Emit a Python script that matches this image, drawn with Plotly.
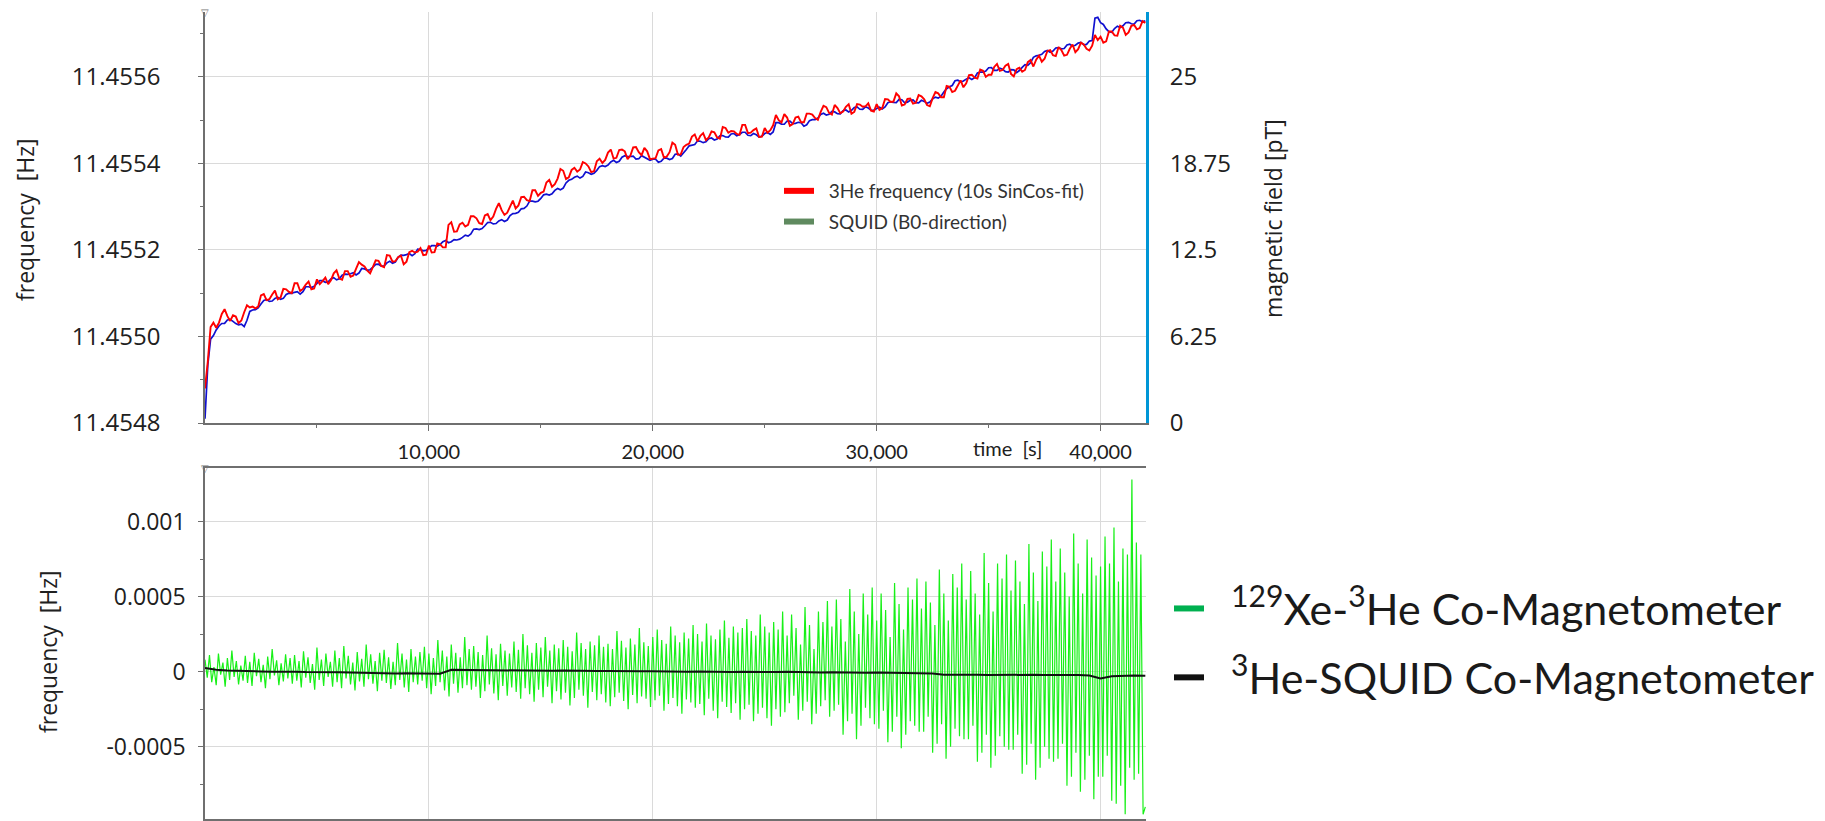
import plotly.graph_objects as go

# ---------------------------------------------------------------------------
# Measurement data
# ---------------------------------------------------------------------------
# 3He precession frequency from 10 s SinCos fits, one value per 125 s,
# stored as offset from the reference frequency in micro-Hz
HE3_STEP_S = 125
HE3_REF_HZ = 11.4548
he3_offset_uhz = [
    80, 142, 222, 232, 220, 232, 252, 263, 247, 236, 249, 246, 231, 237, 256, 272,
    267, 269, 265, 269, 295, 298, 284, 286, 297, 306, 286, 290, 310, 309, 303, 300,
    323, 323, 305, 310, 320, 327, 309, 311, 332, 321, 328, 336, 321, 330, 346, 353,
    334, 331, 351, 351, 338, 341, 357, 372, 366, 362, 352, 346, 361, 376, 375, 363,
    360, 388, 387, 373, 374, 383, 387, 367, 373, 395, 398, 394, 396, 404, 388, 389,
    410, 394, 395, 415, 413, 406, 406, 458, 464, 442, 443, 459, 463, 454, 458, 478,
    478, 473, 462, 460, 480, 483, 469, 477, 495, 508, 492, 481, 486, 502, 514, 496,
    503, 522, 523, 515, 513, 538, 538, 525, 532, 535, 556, 562, 546, 552, 565, 587,
    583, 564, 568, 585, 590, 581, 586, 603, 600, 593, 580, 582, 605, 611, 601, 608,
    625, 632, 611, 613, 631, 632, 628, 610, 618, 637, 638, 626, 619, 636, 628, 610,
    611, 612, 630, 633, 613, 616, 626, 648, 643, 620, 621, 638, 643, 646, 662, 667,
    651, 664, 670, 654, 660, 674, 672, 660, 657, 684, 682, 671, 675, 674, 668, 666,
    689, 689, 670, 671, 677, 681, 661, 662, 682, 671, 677, 688, 712, 700, 695, 714,
    706, 687, 691, 706, 708, 695, 695, 715, 715, 713, 705, 701, 719, 733, 730, 717,
    713, 735, 728, 716, 720, 731, 737, 715, 719, 737, 736, 731, 732, 739, 722, 720,
    737, 724, 728, 749, 748, 742, 743, 762, 755, 734, 736, 749, 750, 738, 740, 758,
    755, 748, 735, 732, 751, 765, 762, 753, 753, 779, 777, 765, 768, 782, 792, 776,
    785, 804, 805, 798, 796, 817, 814, 800, 805, 805, 823, 830, 814, 816, 826, 830,
    807, 801, 818, 821, 812, 816, 834, 839, 824, 840, 849, 835, 842, 860, 862, 850,
    848, 869, 862, 849, 851, 865, 875, 857, 864, 879, 875, 865, 861, 872, 897, 885,
    893, 879, 882, 905, 905, 896, 895, 918, 914, 897, 903, 918, 920, 910, 913, 929,
    925,
]

# SQUID reading along B0 [pT], same 125 s time base
SQUID_STEP_S = 125
squid_b0_pt = [
    0.31, 4.20, 6.06, 6.31, 6.72, 7.01, 7.19, 7.20, 7.44, 7.48, 7.34, 7.18, 7.09, 7.14, 6.97, 7.42,
    8.06, 8.16, 8.19, 8.32, 8.59, 8.85, 8.91, 8.78, 8.81, 9.00, 9.09, 8.93, 9.00, 9.28, 9.38, 9.37,
    9.44, 9.49, 9.31, 9.48, 9.84, 9.84, 9.78, 9.87, 10.09, 10.29, 10.28, 10.16, 10.19, 10.40, 10.50, 10.34,
    10.41, 10.67, 10.75, 10.73, 10.78, 10.85, 10.69, 10.83, 11.16, 11.13, 11.03, 11.07, 11.25, 11.46, 11.47, 11.33,
    11.34, 11.57, 11.69, 11.54, 11.63, 11.97, 12.13, 12.11, 12.16, 12.24, 12.09, 12.23, 12.56, 12.53, 12.44, 12.47,
    12.63, 12.82, 12.81, 12.77, 12.88, 13.09, 13.19, 13.02, 13.09, 13.25, 13.22, 13.28, 13.41, 13.57, 13.50, 13.65,
    14.00, 14.02, 13.97, 14.04, 14.25, 14.48, 14.50, 14.38, 14.41, 14.60, 14.69, 14.56, 14.66, 14.99, 15.13, 15.14,
    15.22, 15.47, 15.50, 15.67, 16.03, 16.03, 15.97, 16.02, 16.22, 16.48, 16.53, 16.47, 16.56, 16.80, 16.94, 16.84,
    16.97, 17.34, 17.53, 17.60, 17.75, 17.83, 17.69, 17.81, 18.13, 18.08, 17.97, 18.04, 18.25, 18.52, 18.59, 18.53,
    18.63, 18.85, 18.97, 18.82, 18.91, 19.20, 19.31, 19.24, 19.25, 19.27, 19.06, 19.09, 19.31, 19.20, 19.03, 18.98,
    19.06, 19.05, 18.84, 18.91, 19.13, 19.13, 19.03, 19.10, 19.41, 19.44, 19.28, 19.48, 19.75, 20.02, 20.06, 20.12,
    20.38, 20.35, 20.25, 20.32, 20.53, 20.59, 20.44, 20.52, 20.75, 20.76, 20.66, 20.65, 20.88, 20.91, 20.75, 20.84,
    21.00, 21.00, 20.78, 20.75, 20.91, 20.82, 20.66, 20.72, 20.91, 20.98, 20.84, 21.02, 21.69, 21.69, 21.59, 21.58,
    21.81, 21.81, 21.63, 21.64, 21.72, 21.69, 21.44, 21.54, 21.84, 21.91, 21.91, 22.03, 22.28, 22.37, 22.25, 22.30,
    22.50, 22.47, 22.34, 22.33, 22.56, 22.61, 22.47, 22.59, 22.78, 22.83, 22.66, 22.65, 22.84, 22.75, 22.59, 22.59,
    22.72, 22.81, 22.69, 22.83, 23.13, 23.20, 23.16, 23.15, 23.38, 23.35, 23.13, 23.18, 23.31, 23.33, 23.13, 23.12,
    23.31, 23.23, 23.09, 23.18, 23.41, 23.54, 23.47, 23.61, 23.91, 24.15, 24.28, 24.38, 24.72, 24.77, 24.63, 24.70,
    24.84, 24.94, 24.81, 24.95, 25.28, 25.34, 25.34, 25.43, 25.66, 25.67, 25.47, 25.47, 25.63, 25.56, 25.38, 25.34,
    25.53, 25.51, 25.31, 25.46, 25.69, 25.88, 25.84, 26.03, 26.41, 26.52, 26.56, 26.63, 26.84, 26.91, 26.78, 26.86,
    27.09, 27.11, 27.03, 27.05, 27.31, 27.36, 27.22, 27.29, 27.44, 27.49, 27.31, 27.35, 27.59, 27.62, 29.25, 29.30,
    28.91, 28.79, 28.47, 28.27, 28.22, 28.49, 28.66, 28.56, 28.69, 28.91, 28.94, 28.84, 28.81, 29.06, 29.09, 28.98,
    29.06,
]

# 129Xe-3He co-magnetometer residual, one value per 100 s, in micro-Hz
XE_STEP_S = 100
xe_he_comag_uhz = [
    80, -40, 110, -70, 30, -90, 120, -20, 60, -100, 90, -55, 140, -35, 70, -85, 40, -60, 105, -75,
    65, -95, 125, -30, 85, -70, 45, -110, 100, -50, 150, -25, 75, -90, 55, -65, 115, -45, 90, -80,
    110, -60, 70, -105, 135, -40, 95, -75, 50, -120, 160, -55, 80, -95, 120, -35, 65, -100, 140, -70,
    90, -110, 170, -45, 105, -85, 60, -125, 130, -65, 85, -100, 180, -50, 115, -80, 70, -130, 125, -60,
    145, -75, 95, -115, 65, -90, 190, -55, 120, -105, 80, -135, 150, -70, 100, -85, 130, -60, 165, -110,
    120, -150, 90, -95, 210, -70, 140, -125, 100, -165, 180, -80, 125, -140, 95, -110, 230, -90, 150, -120,
    170, -100, 130, -175, 110, -130, 240, -85, 155, -145, 115, -190, 185, -95, 140, -160, 120, -105, 200, -135,
    145, -180, 250, -110, 175, -150, 125, -200, 190, -120, 160, -170, 230, -100, 140, -210, 180, -130, 155, -185,
    210, -140, 165, -225, 135, -175, 260, -120, 190, -160, 150, -240, 200, -135, 175, -190, 240, -150, 165, -205,
    185, -230, 150, -170, 270, -140, 205, -195, 160, -250, 220, -155, 180, -210, 290, -165, 195, -180, 170, -235,
    230, -190, 280, -160, 210, -260, 185, -215, 300, -175, 240, -230, 195, -280, 260, -185, 220, -205, 310, -240,
    250, -215, 200, -290, 320, -180, 240, -260, 215, -310, 280, -200, 340, -235, 225, -275, 300, -210, 260, -320,
    290, -250, 350, -220, 270, -330, 240, -280, 380, -240, 300, -310, 260, -360, 330, -250, 280, -300, 400, -270,
    240, -210, 380, -160, 290, -320, 180, -260, 430, -200, 310, -350, 150, -280, 400, -230, 330, -190, 470, -300,
    300, -260, 480, -220, 350, -420, 200, -330, 550, -280, 400, -450, 250, -360, 520, -240, 380, -310, 560, -350,
    340, -380, 520, -260, 410, -470, 230, -400, 590, -300, 450, -510, 280, -420, 560, -330, 480, -360, 620, -400,
    420, -400, 600, -300, 460, -540, 310, -480, 680, -350, 520, -580, 340, -500, 650, -380, 560, -430, 720, -450,
    480, -450, 670, -360, 520, -600, 380, -540, 790, -420, 590, -640, 400, -560, 720, -430, 620, -500, 780, -520,
    540, -520, 740, -420, 600, -680, 450, -620, 850, -480, 660, -720, 470, -640, 800, -500, 700, -580, 880, -600,
    600, -580, 820, -480, 660, -760, 500, -700, 920, -540, 720, -800, 520, -720, 880, -560, 760, -850, 640, -700,
    700, -700, 900, -560, 720, -860, 960, -880, 600, -760, 820, -950, 780, -640, 1280, -720, 860, -680, 780, -950,
    -900,
]

# 3He-SQUID co-magnetometer residual [Hz], one value per 500 s
SQUID_COMAG_STEP_S = 500
he_squid_comag_hz = [
    0.000025, 0.000012, 0.000008, 0.000004, 0.000003, 0.000001, 0.000000, 0.000002,
    -0.000001, -0.000003, -0.000002, -0.000005, -0.000004, -0.000006, -0.000008, -0.000007,
    -0.000010, -0.000012, -0.000011, -0.000013, -0.000012, -0.000014, 0.000012, 0.000011,
    0.000010, 0.000012, 0.000009, 0.000008, 0.000010, 0.000007, 0.000008, 0.000006,
    0.000007, 0.000005, 0.000006, 0.000004, 0.000005, 0.000003, 0.000004, 0.000002,
    0.000003, 0.000001, 0.000002, 0.000000, 0.000001, -0.000001, 0.000000, -0.000002,
    -0.000001, -0.000003, -0.000002, -0.000003, -0.000001, -0.000004, -0.000003, -0.000005,
    -0.000004, -0.000006, -0.000005, -0.000007, -0.000006, -0.000008, -0.000007, -0.000009,
    -0.000010, -0.000012, -0.000020, -0.000019, -0.000021, -0.000020, -0.000022, -0.000021,
    -0.000023, -0.000022, -0.000021, -0.000023, -0.000022, -0.000024, -0.000023, -0.000025,
    -0.000045, -0.000030, -0.000026, -0.000025, -0.000027,
]

# Axis ticks and labels
TIME_RANGE = [0, 42030]
TIME_TICKS = [10000, 20000, 30000, 40000]
TIME_MINOR = [5000, 15000, 25000, 35000]
FREQ_RANGE = [11.4548, 11.45575]
FREQ_TICKS = [11.4548, 11.4550, 11.4552, 11.4554, 11.4556]
FREQ_MINOR = [11.4549, 11.4551, 11.4553, 11.4555, 11.4557]
FIELD_RANGE = [0, 29.6875]
FIELD_TICKS = [0, 6.25, 12.5, 18.75, 25]
FIELD_LABELS = ["0", "6.25", "12.5", "18.75", "25"]
RESID_RANGE = [-0.000981, 0.001356]
RESID_TICKS = [-0.0005, 0, 0.0005, 0.001]
RESID_LABELS = ["-0.0005", "0", "0.0005", "0.001"]
RESID_MINOR = [-0.00075, -0.00025, 0.00025, 0.00075]


def time_axis(values, step):
    return [i * step for i in range(len(values))]


he3_freq_hz = [HE3_REF_HZ + v * 1e-6 for v in he3_offset_uhz]
xe_he_comag_hz = [v * 1e-6 for v in xe_he_comag_uhz]

# ---------------------------------------------------------------------------
# Figure
# ---------------------------------------------------------------------------
W, H = 1825, 821


def fx(px):
    return px / W


def fy(px):
    return 1 - px / H


AXIS_GREY = "#6f6f6f"
GRID_GREY = "#dadada"
TEXT = "#202020"
SEGOE = "Open Sans, Noto Sans, sans-serif"
CALIBRI = "Lato, sans-serif"
NBSP = "\u00a0"

fig = go.Figure()

# upper panel: SQUID field on the right axis, 3He frequency on the left axis
fig.add_trace(go.Scatter(
    x=time_axis(squid_b0_pt, SQUID_STEP_S), y=squid_b0_pt,
    mode="lines", line=dict(color="#1010d0", width=1.7),
    xaxis="x", yaxis="y", showlegend=False, hoverinfo="skip"))
fig.add_trace(go.Scatter(
    x=time_axis(he3_freq_hz, HE3_STEP_S), y=he3_freq_hz,
    mode="lines", line=dict(color="#ff0000", width=1.9),
    xaxis="x", yaxis="y2", showlegend=False, hoverinfo="skip"))

# lower panel: co-magnetometer residuals
fig.add_trace(go.Scatter(
    x=time_axis(xe_he_comag_hz, XE_STEP_S), y=xe_he_comag_hz,
    mode="lines", line=dict(color="#18f018", width=1.2),
    xaxis="x2", yaxis="y3", showlegend=False, hoverinfo="skip"))
fig.add_trace(go.Scatter(
    x=time_axis(he_squid_comag_hz, SQUID_COMAG_STEP_S), y=he_squid_comag_hz,
    mode="lines", line=dict(color="#111111", width=2),
    xaxis="x2", yaxis="y3", showlegend=False, hoverinfo="skip"))

# legend entries
legend_entries = [
    (NBSP * 2 + "3He frequency (10s SinCos-fit)", "#ff0000", "legend", "a"),
    (NBSP * 2 + "SQUID (B0-direction)", "#5f8a5f", "legend", "b"),
    (NBSP * 2 + "<sup>129</sup>Xe-<sup>3</sup>He Co-Magnetometer", "#00b050", "legend2", "c"),
    (NBSP * 2 + "<sup>3</sup>He-SQUID Co-Magnetometer", "#111111", "legend2", "d"),
]
for name, color, leg, grp in legend_entries:
    fig.add_trace(go.Scatter(
        x=[None], y=[None], mode="lines", name=name,
        line=dict(color=color, width=6), legend=leg, legendgroup=grp,
        xaxis="x", yaxis="y", hoverinfo="skip"))

common_x = dict(
    range=TIME_RANGE, showline=True, linecolor=AXIS_GREY, linewidth=1.5,
    ticks="outside", ticklen=6, tickcolor=AXIS_GREY, tickwidth=1,
    tickmode="array", tickvals=TIME_TICKS, automargin=False,
    showgrid=True, gridcolor=GRID_GREY, gridwidth=1, zeroline=False,
    minor=dict(tickmode="array", tickvals=TIME_MINOR, ticks="outside",
               ticklen=3, tickcolor=AXIS_GREY, showgrid=False),
)

fig.update_layout(
    width=W, height=H,
    margin=dict(l=0, r=0, t=0, b=0, autoexpand=False),
    paper_bgcolor="white", plot_bgcolor="white",
    font=dict(family=SEGOE, color=TEXT),
    xaxis=dict(
        common_x, domain=[fx(205), fx(1146)], anchor="y",
        tickformat=",d", ticklabelstandoff=4,
        tickfont=dict(family=CALIBRI, size=20, color=TEXT),
    ),
    yaxis=dict(
        domain=[fy(423), fy(12)], anchor="x", side="right",
        range=FIELD_RANGE, tickmode="array", tickvals=FIELD_TICKS,
        ticktext=FIELD_LABELS, showgrid=False, zeroline=False,
        showline=True, linecolor="#0096d6", linewidth=3, ticks="",
        automargin=False,
        ticklabelstandoff=16, tickfont=dict(size=24, color=TEXT),
    ),
    yaxis2=dict(
        overlaying="y", anchor="x", side="left",
        range=FREQ_RANGE, tickmode="array", tickvals=FREQ_TICKS,
        tickformat=".4f", showgrid=True, gridcolor=GRID_GREY, zeroline=False,
        showline=True, linecolor=AXIS_GREY, linewidth=1.5,
        ticks="outside", ticklen=5, tickcolor=AXIS_GREY, automargin=False,
        minor=dict(tickmode="array", tickvals=FREQ_MINOR, ticks="outside",
                   ticklen=3, tickcolor=AXIS_GREY, showgrid=False),
        ticklabelstandoff=33, tickfont=dict(size=24, color=TEXT),
    ),
    xaxis2=dict(
        common_x, domain=[fx(205), fx(1146)], anchor="y3",
        showticklabels=False, mirror=True,
    ),
    yaxis3=dict(
        domain=[fy(819), fy(468)], anchor="x2",
        range=RESID_RANGE, tickmode="array", tickvals=RESID_TICKS,
        ticktext=RESID_LABELS, showgrid=True, gridcolor=GRID_GREY,
        zeroline=False, showline=True, linecolor=AXIS_GREY, linewidth=1.5,
        ticks="outside", ticklen=5, tickcolor=AXIS_GREY, automargin=False,
        minor=dict(tickmode="array", tickvals=RESID_MINOR, ticks="outside",
                   ticklen=3, tickcolor=AXIS_GREY, showgrid=False),
        ticklabelstandoff=8, tickfont=dict(size=23, color=TEXT),
    ),
    legend=dict(
        x=fx(779), y=fy(172), xanchor="left", yanchor="top",
        bgcolor="rgba(0,0,0,0)", tracegroupgap=3,
        font=dict(family=CALIBRI, size=19, color="#333333"),
    ),
    legend2=dict(
        x=fx(1169), y=fy(574), xanchor="left", yanchor="top",
        bgcolor="rgba(0,0,0,0)", tracegroupgap=10,
        font=dict(family=CALIBRI, size=43, color="#1a1a1a"),
    ),
)

annotations = [
    dict(text="frequency  [Hz]", x=fx(25), y=fy(220), textangle=-90,
         font=dict(size=23, color=TEXT)),
    dict(text="frequency  [Hz]", x=fx(48), y=fy(652), textangle=-90,
         font=dict(size=23, color=TEXT)),
    dict(text="magnetic field [pT]", x=fx(1273), y=fy(219), textangle=-90,
         font=dict(size=23, color=TEXT)),
]
for a in annotations:
    a.update(xref="paper", yref="paper", showarrow=False,
             xanchor="center", yanchor="middle")
    fig.add_annotation(**a)

# axis caption placed in the tick-label row of the upper time axis
fig.add_annotation(text="time  [s]", xref="x", x=35850, yref="paper", y=fy(448),
                   showarrow=False, xanchor="center", yanchor="middle",
                   font=dict(family=CALIBRI, size=20, color=TEXT))

# small end markers at the top of the frequency axes
for yref in ("y2 domain", "y3 domain"):
    fig.add_annotation(text="▽", xref="x", x=0, yref=yref, y=1,
                       showarrow=False, xanchor="center", yanchor="middle",
                       font=dict(size=10, color="#777777"))

fig.write_html("out.html")
